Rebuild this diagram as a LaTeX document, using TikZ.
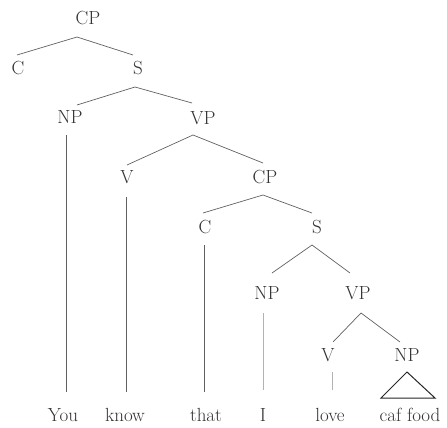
\documentclass[tikz,border=0pt]{standalone}
\usetikzlibrary{calc}
\begin{document}
\begin{tikzpicture}[x=1pt,y=-1pt,
  lab/.style={inner sep=0pt,text height=13pt,text depth=0pt,text=black!80,font=\fontsize{19}{22}\selectfont},
  br/.style={draw=gray!75!black,line width=0.7pt},
  tri/.style={draw=black!85,line width=1pt}]
\useasboundingbox (0,0) rectangle (447,428);
% labels
\node[lab] (cp1) at (88,18) {CP};
\node[lab] (c1) at (18,68) {C};
\node[lab] (s1) at (138,68) {S};
\node[lab] (np1) at (70,117) {NP};
\node[lab] (vp1) at (203,118) {VP};
\node[lab] (v1) at (127,177) {V};
\node[lab] (cp2) at (265,177) {CP};
\node[lab] (c2) at (205,227) {C};
\node[lab] (s2) at (317,227) {S};
\node[lab] (np2) at (267,293) {NP};
\node[lab] (vp2) at (358,293) {VP};
\node[lab] (v2) at (328,355) {V};
\node[lab] (np3) at (407,355) {NP};
% leaves
\node[lab] (you) at (63,415) {You};
\node[lab] (know) at (125,415) {know};
\node[lab] (that) at (206,415) {that};
\node[lab] (i) at (263,415) {I};
\node[lab] (love) at (330,415) {love};
\node[lab] (caf) at (410,415) {caf food};
% branches
\draw[br] ($(c1)+(-1,-13)$) -- ($(cp1)+(-11,19)$) -- ($(s1)+(-5,-13)$);
\draw[br] ($(np1)+(7,-12)$) -- ($(s1)+(-3,19)$) -- ($(vp1)+(-11,-15)$);
\draw[br] ($(v1)+(0,-12)$) -- ($(vp1)+(-10,17)$) -- ($(cp2)+(-2,-14)$);
\draw[br] ($(c2)+(-2,-14)$) -- ($(cp2)+(-2,18)$) -- ($(s2)+(-5,-14)$);
\draw[br] ($(np2)+(5,-20)$) -- ($(s2)+(-5,18)$) -- ($(vp2)+(-8,-20)$);
\draw[br] ($(v2)+(5,-13)$) -- ($(vp2)+(3,20)$) -- ($(np3)+(-7,-13)$);
% unary lines
\draw[br] ($(np1)+(-4,18)$) -- ($(you)+(3,-23)$);
\draw[br] ($(v1)+(-1,20)$) -- ($(know)+(1,-23)$);
\draw[br] ($(c2)+(-1,18)$) -- ($(that)+(-2,-23)$);
\draw[br,draw=gray!60] ($(np2)+(-4,20)$) -- ($(i)+(0,-25)$);
\draw[br,draw=gray!60] ($(v2)+(4,17)$) -- ($(love)+(2,-25)$);
% triangle
\draw[tri] ($(np3)+(0,17)$) -- ($(caf)+(-29,-17)$) -- ($(caf)+(25,-17)$) -- cycle;
\end{tikzpicture}
\end{document}
